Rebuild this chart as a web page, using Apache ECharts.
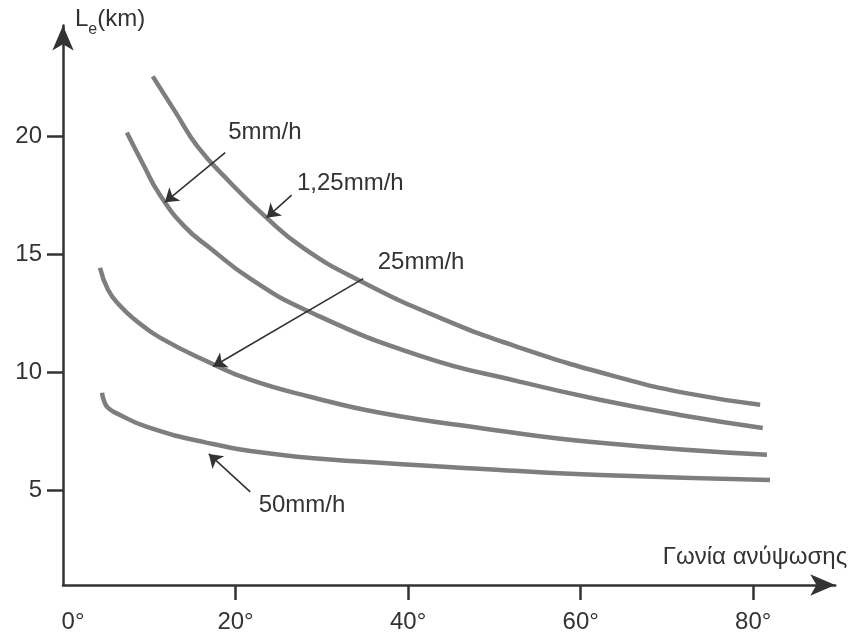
<!DOCTYPE html>
<html>
<head>
<meta charset="utf-8">
<title>Le - elevation angle</title>
<script src="https://cdn.jsdelivr.net/npm/echarts@6/dist/echarts.min.js"></script>
<style>
  html, body { margin: 0; padding: 0; background: #fff; }
  #main { width: 857px; height: 642px; }
</style>
</head>
<body>
<div id="main"></div>
<script>
// [elevation angle (deg), Le (km)], one list per rain rate
var rate125 = [[10.4, 22.53], [13.0, 21.04], [15.6, 19.56], [19.4, 18.03], [23.2, 16.68], [27.8, 15.28],
    [34.4, 13.88], [43.7, 12.31], [53.0, 11.04], [64.6, 9.77], [72.7, 9.09], [80.8, 8.63]];
var rate5 = [[7.4, 20.15], [9.3, 18.80], [11.2, 17.53], [14.1, 16.17], [17.0, 15.28], [21.7, 13.97],
    [28.3, 12.61], [41.4, 10.70], [53.0, 9.60], [62.2, 8.84], [71.5, 8.20], [81.1, 7.65]];
var rate25 = [[4.29, 14.43], [5.22, 13.50], [6.61, 12.82], [8.34, 12.23], [11.24, 11.47], [17.04, 10.41],
    [21.67, 9.69], [28.63, 8.97], [36.74, 8.29], [48.33, 7.65], [62.24, 7.02], [81.59, 6.51]];
var rate50 = [[4.52, 9.14], [4.75, 8.80], [5.22, 8.50], [6.61, 8.20], [9.74, 7.69], [16.23, 7.06],
    [25.15, 6.51], [36.74, 6.17], [50.65, 5.87], [62.24, 5.66], [81.94, 5.45]];

var xTicks = [20, 40, 60, 80];
var xLabels = [0, 20, 40, 60, 80];
var yTicks = [5, 10, 15, 20];

// callouts in data space: text, text centre, arrow tail, arrow tip
var notes = {
    r125: { text: '1,25mm/h', at: [33.3, 18.0], tail: [26.5, 17.5], tip: [23.6, 16.55] },
    r5: { text: '5mm/h', at: [23.4, 20.15], tail: [18.8, 19.3], tip: [11.8, 17.2] },
    r25: { text: '25mm/h', at: [41.5, 14.64], tail: [34.8, 13.97], tip: [17.4, 10.25] },
    r50: { text: '50mm/h', at: [27.7, 4.35], tail: [21.7, 4.94], tip: [16.9, 6.55] }
};

var ink = '#333';
var font = 'Liberation Sans, Arial, sans-serif';
var fs = 24;

function curve(name, pts, note) {
    return {
        name: name,
        type: 'line',
        data: pts,
        smooth: 0.5,
        symbol: 'none',
        lineStyle: { color: '#7e7e7e', width: 4.5 },
        markLine: {
            silent: true,
            animation: false,
            symbol: ['none', 'arrow'],
            symbolSize: 13,
            lineStyle: { color: ink, width: 1.6, type: 'solid' },
            label: { show: false },
            data: [[{ coord: note.tail }, { coord: note.tip }]]
        },
        markPoint: {
            silent: true,
            animation: false,
            symbol: 'circle',
            symbolSize: 0,
            label: { show: true, position: 'inside', formatter: note.text, color: ink, fontSize: fs, fontFamily: font },
            data: [{ coord: note.at }]
        }
    };
}

var myChart = echarts.init(document.getElementById('main'));

var option = {
    animation: false,
    backgroundColor: '#fff',
    textStyle: { fontFamily: font },
    grid: {
        left: 63,
        right: 21.8,
        top: 25.6,
        bottom: 57,
        containLabel: false,
        outerBoundsMode: 'none'
    },
    xAxis: {
        type: 'value',
        min: 0,
        max: 89.5,
        name: 'Γωνία ανύψωσης',
        nameLocation: 'end',
        nameGap: 12,
        nameTextStyle: { fontSize: fs, color: ink, align: 'right', verticalAlign: 'bottom', padding: [0, 0, 16, 0] },
        axisLine: { show: true, symbol: ['none', 'arrow'], symbolSize: [16, 25], lineStyle: { color: ink, width: 2.5 } },
        axisTick: { show: true, length: 15, customValues: xTicks, lineStyle: { color: ink, width: 2.5 } },
        axisLabel: {
            customValues: xLabels,
            margin: 25,
            fontSize: fs,
            color: ink,
            formatter: function (v) {
                return v === 0 ? '{z|0°}' : v + '°';
            },
            rich: { z: { fontSize: fs, color: ink, padding: [0, 0, 12, 20] } }
        },
        splitLine: { show: false }
    },
    yAxis: {
        type: 'value',
        min: 1,
        max: 24.68,
        name: 'L{e|e}(km)',
        nameLocation: 'end',
        nameGap: 6,
        nameTextStyle: {
            fontSize: fs,
            color: ink,
            align: 'left',
            verticalAlign: 'middle',
            padding: [0, 0, 0, 12],
            rich: { e: { fontSize: 16, color: ink, lineHeight: 36, verticalAlign: 'bottom' } }
        },
        axisLine: { show: true, symbol: ['none', 'arrow'], symbolSize: [16, 25], lineStyle: { color: ink, width: 2.5 } },
        axisTick: { show: true, length: 16, customValues: yTicks, lineStyle: { color: ink, width: 2.5 } },
        axisLabel: { customValues: yTicks, margin: 21, fontSize: fs, color: ink },
        splitLine: { show: false }
    },
    series: [
        curve('1,25mm/h', rate125, notes.r125),
        curve('5mm/h', rate5, notes.r5),
        curve('25mm/h', rate25, notes.r25),
        curve('50mm/h', rate50, notes.r50)
    ]
};

myChart.setOption(option);
</script>
</body>
</html>
